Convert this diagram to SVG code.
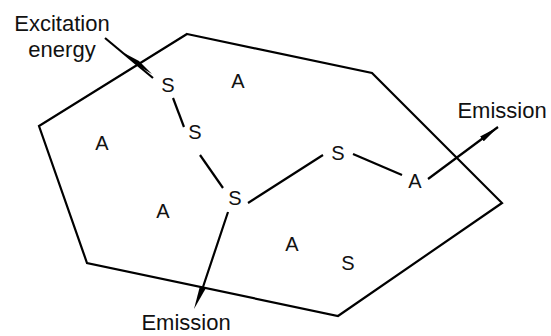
<svg xmlns="http://www.w3.org/2000/svg" width="551" height="336" viewBox="0 0 551 336">
<defs>
<marker id="ah" viewBox="0 0 20 6" refX="20" refY="3" markerWidth="20" markerHeight="6" markerUnits="userSpaceOnUse" orient="auto">
<path d="M0,0 L20,3 L0,6 Z" fill="#000"/>
</marker>
</defs>
<style>
.ln{stroke:#000;stroke-width:2.2;fill:none}
.t{font-family:"Liberation Sans",Arial,sans-serif;font-size:20px;fill:#111;text-anchor:middle}
.lb{font-family:"Liberation Sans",Arial,sans-serif;font-size:22px;fill:#111;text-anchor:middle}
</style>
<rect width="551" height="336" fill="#fff"/>
<g id="boundary"><polygon class="ln" points="187,34 372,73 502,203 338,316 87,263 39,126"/></g>
<g id="connectors">
<line class="ln" x1="105" y1="38" x2="153" y2="78"/>
<path d="M124,53 L137,65 L152,74 L139,61 Z" fill="#000"/>
<line class="ln" x1="173" y1="98" x2="184" y2="127"/>
<line class="ln" x1="200" y1="155" x2="223" y2="188"/>
<line class="ln" x1="248" y1="203" x2="323" y2="155"/>
<line class="ln" x1="353" y1="154" x2="402" y2="175"/>
<line class="ln" x1="428" y1="179" x2="498" y2="127" marker-end="url(#ah)"/>
<line class="ln" x1="228" y1="212" x2="203" y2="287"/>
<path d="M200,286 L206,288 L194,309 Z" fill="#000"/>
</g>
<g id="labels">
<text class="lb" x="62" y="31">Excitation</text>
<text class="lb" x="62" y="57">energy</text>
<text class="lb" x="502" y="118">Emission</text>
<text class="lb" x="186" y="330">Emission</text>
</g>
<g id="S1"><text class="t" x="168" y="92">S</text></g>
<g id="A1"><text class="t" x="238" y="88">A</text></g>
<g id="A2"><text class="t" x="102" y="150">A</text></g>
<g id="S2"><text class="t" x="195" y="139">S</text></g>
<g id="S3"><text class="t" x="235" y="205">S</text></g>
<g id="A3"><text class="t" x="163" y="218">A</text></g>
<g id="S4"><text class="t" x="338" y="160">S</text></g>
<g id="A4"><text class="t" x="415" y="188">A</text></g>
<g id="A5"><text class="t" x="292" y="251">A</text></g>
<g id="S5"><text class="t" x="348" y="270">S</text></g>
</svg>
